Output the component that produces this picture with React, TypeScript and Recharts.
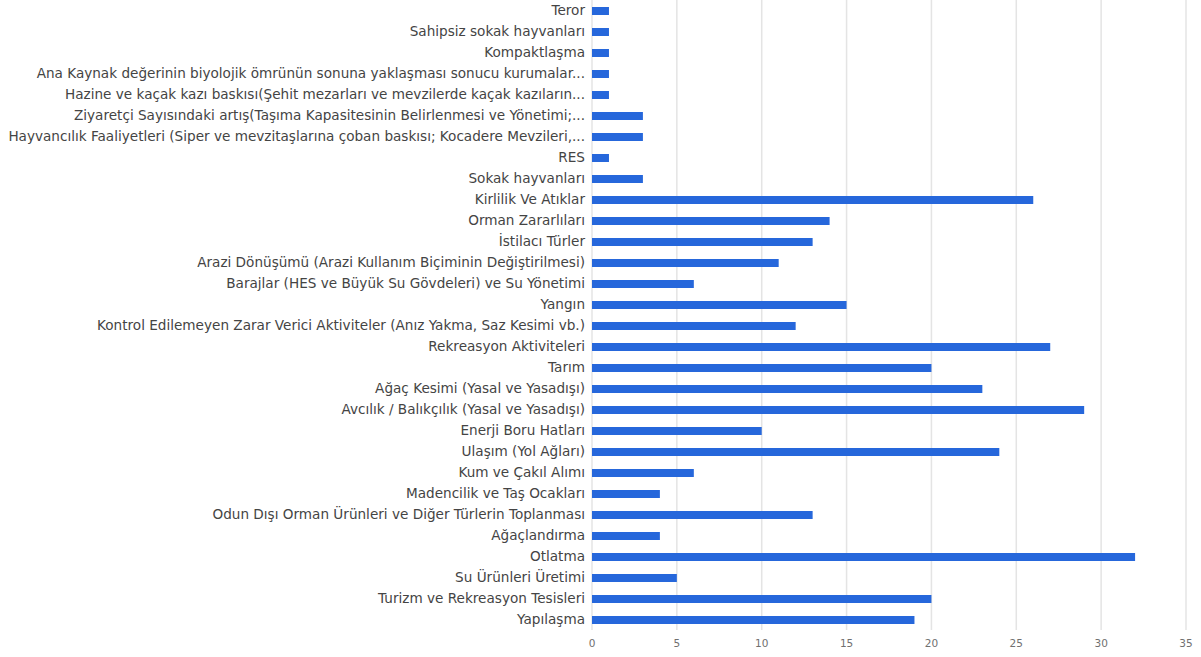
import React from "react";
import { BarChart, Bar, XAxis, YAxis, CartesianGrid } from "recharts";

const categories = [
  "Teror",
  "Sahipsiz sokak hayvanları",
  "Kompaktlaşma",
  "Ana Kaynak değerinin biyolojik ömrünün sonuna yaklaşması sonucu kurumalar...",
  "Hazine ve kaçak kazı baskısı(Şehit mezarları ve mevzilerde kaçak kazıların...",
  "Ziyaretçi Sayısındaki artış(Taşıma Kapasitesinin Belirlenmesi ve Yönetimi;...",
  "Hayvancılık Faaliyetleri (Siper ve mevzitaşlarına çoban baskısı; Kocadere Mevzileri,...",
  "RES",
  "Sokak hayvanları",
  "Kirlilik Ve Atıklar",
  "Orman Zararlıları",
  "İstilacı Türler",
  "Arazi Dönüşümü (Arazi Kullanım Biçiminin Değiştirilmesi)",
  "Barajlar (HES ve Büyük Su Gövdeleri) ve Su Yönetimi",
  "Yangın",
  "Kontrol Edilemeyen Zarar Verici Aktiviteler (Anız Yakma, Saz Kesimi vb.)",
  "Rekreasyon Aktiviteleri",
  "Tarım",
  "Ağaç Kesimi (Yasal ve Yasadışı)",
  "Avcılık / Balıkçılık (Yasal ve Yasadışı)",
  "Enerji Boru Hatları",
  "Ulaşım (Yol Ağları)",
  "Kum ve Çakıl Alımı",
  "Madencilik ve Taş Ocakları",
  "Odun Dışı Orman Ürünleri ve Diğer Türlerin Toplanması",
  "Ağaçlandırma",
  "Otlatma",
  "Su Ürünleri Üretimi",
  "Turizm ve Rekreasyon Tesisleri",
  "Yapılaşma",
];

const counts = [
  1, 1, 1, 1, 1, 3, 3, 1, 3, 26, 14, 13, 11, 6, 15, 12, 27, 20, 23, 29, 10, 24,
  6, 4, 13, 4, 32, 5, 20, 19,
];

const xTicks = [0, 5, 10, 15, 20, 25, 30, 35];

const data = categories.map((name, i) => ({ name, value: counts[i] }));

export default function App() {
  return (
    <div style={{ position: "absolute", left: 0, top: 0, background: "#fff" }}>
      <BarChart
        width={1201}
        height={657}
        data={data}
        layout="vertical"
        margin={{ top: 0, right: 15, left: 0, bottom: 0 }}
        barCategoryGap={0}
      >
        <CartesianGrid horizontal={false} vertical={true} stroke="#e4e4e4" strokeWidth={1.5} />
        <XAxis
          type="number"
          domain={[0, 35]}
          ticks={xTicks}
          axisLine={false}
          tickLine={false}
          height={27}
          tickSize={8}
          tick={{ fontSize: 10.5, fill: "#707070", fontFamily: "DejaVu Sans" }}
        />
        <YAxis
          type="category"
          dataKey="name"
          width={592}
          interval={0}
          axisLine={false}
          tickLine={false}
          tickSize={5}
          tick={{ fontSize: 13.6, fill: "#444", fontFamily: "DejaVu Sans" }}
        />
        <Bar dataKey="value" fill="#2667db" barSize={8} isAnimationActive={false} />
      </BarChart>
    </div>
  );
}
